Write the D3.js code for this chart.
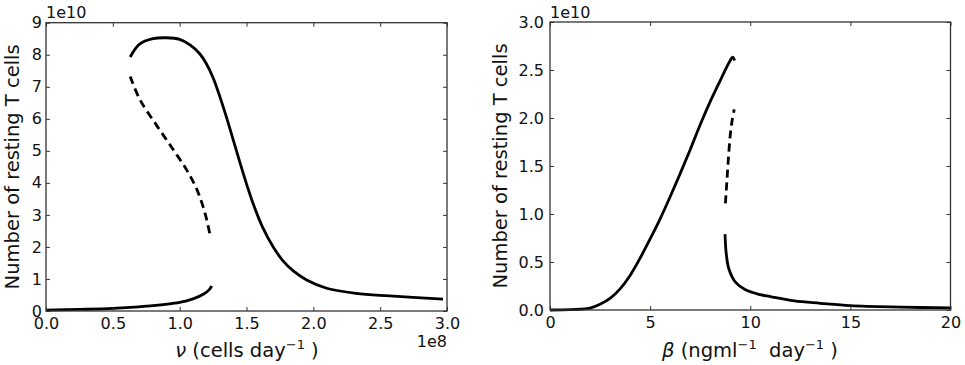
<!DOCTYPE html>
<html>
<head>
<meta charset="utf-8">
<script src="https://cdn.jsdelivr.net/npm/d3@7"></script>
<style>
  body { margin: 0; background: #fff; }
  svg { font-family: "DejaVu Sans", sans-serif; }
  text { white-space: pre; }
</style>
</head>
<body>
<div id="chart"></div>
<script>
// 左図: ν (単位 1e8) と 静止T細胞数 (単位 1e10) ---------------------------------------
const nuLowerX = [0.0, 0.25, 0.5, 0.75, 1.0, 1.1, 1.18, 1.22, 1.24];
const nuLowerY = [0.03, 0.05, 0.08, 0.15, 0.27, 0.38, 0.53, 0.66, 0.78];
const nuDashX = [0.63, 0.70, 0.83, 0.95, 1.05, 1.13, 1.19, 1.23];
const nuDashY = [7.32, 6.62, 5.78, 5.05, 4.42, 3.78, 3.05, 2.32];
const nuUpperX = [0.63, 0.70, 0.80, 0.90, 1.00, 1.08, 1.15, 1.20, 1.25, 1.30, 1.35, 1.40, 1.45, 1.50, 1.55, 1.62, 1.70, 1.77, 1.85, 1.95, 2.10, 2.32, 2.57, 2.97];
const nuUpperY = [7.93, 8.33, 8.50, 8.53, 8.48, 8.30, 8.03, 7.72, 7.28, 6.70, 6.05, 5.35, 4.65, 3.97, 3.35, 2.62, 2.00, 1.58, 1.25, 0.97, 0.71, 0.55, 0.47, 0.37];
const nuTicksX = [0, 0.5, 1.0, 1.5, 2.0, 2.5, 3.0];
const nuTicksY = [0, 1, 2, 3, 4, 5, 6, 7, 8, 9];

// 右図: β と 静止T細胞数 (単位 1e10) ------------------------------------------------------
const betaRiseX = [0, 1.0, 1.5, 2.0, 2.5, 3.0, 3.5, 4.0, 4.5, 5.0, 5.5, 6.0, 6.5, 7.0, 7.5, 8.0, 8.5, 8.8, 9.0, 9.12, 9.22];
const betaRiseY = [0.0, 0.003, 0.008, 0.02, 0.06, 0.12, 0.22, 0.36, 0.54, 0.74, 0.95, 1.18, 1.42, 1.67, 1.93, 2.17, 2.39, 2.52, 2.60, 2.635, 2.60];
const betaDashX = [8.76, 8.83, 8.9, 9.0, 9.1, 9.2];
const betaDashY = [1.11, 1.33, 1.55, 1.82, 1.98, 2.09];
const betaLowerX = [8.74, 8.8, 8.93, 9.26, 9.76, 10.5, 11.0, 12.2, 13.5, 15.0, 17.5, 20.0];
const betaLowerY = [0.79, 0.59, 0.43, 0.29, 0.21, 0.16, 0.14, 0.095, 0.07, 0.045, 0.03, 0.022];
const betaTicksX = [0, 5, 10, 15, 20];
const betaTicksY = [0, 0.5, 1.0, 1.5, 2.0, 2.5, 3.0];

// -----------------------------------------------------------------------------------------
const width = 965, height = 365;
const tickFont = '16px';
const labelFont = '19.5px';
const svg = d3.select('#chart').append('svg')
  .attr('width', width)
  .attr('height', height);

const zip = (xs, ys) => xs.map((x, i) => ({ x: x, y: ys[i] }));

function panel(opt) {
  const xScale = d3.scaleLinear().domain(opt.xDomain).range([opt.left, opt.right]);
  const yScale = d3.scaleLinear().domain(opt.yDomain).range([opt.bottom, opt.top]);
  const g = svg.append('g');
  const tickLen = 4;

  // 線 ---------------------------------------------------------------------------------
  const line = d3.line()
    .x(d => xScale(d.x))
    .y(d => yScale(d.y))
    .curve(d3.curveCatmullRom.alpha(0.5));
  opt.series.forEach(s => {
    g.append('path')
      .datum(zip(s.x, s.y))
      .attr('fill', 'none')
      .attr('stroke', '#000')
      .attr('stroke-width', 2.8)
      .attr('stroke-dasharray', s.dash ? '8,5' : null)
      .attr('d', line);
  });

  // 軸 (内向き目盛り, 上下左右) ----------------------------------------------------------
  g.append('g')
    .attr('transform', 'translate(0,' + opt.bottom + ')')
    .call(d3.axisBottom(xScale).tickValues(opt.xTicks).tickSize(-tickLen).tickPadding(7).tickFormat(opt.xFmt));
  g.append('g')
    .attr('transform', 'translate(0,' + opt.top + ')')
    .call(d3.axisTop(xScale).tickValues(opt.xTicks).tickSize(-tickLen).tickFormat(''));
  g.append('g')
    .attr('transform', 'translate(' + opt.left + ',0)')
    .call(d3.axisLeft(yScale).tickValues(opt.yTicks).tickSize(-tickLen).tickPadding(opt.yPad).tickFormat(opt.yFmt));
  g.append('g')
    .attr('transform', 'translate(' + opt.right + ',0)')
    .call(d3.axisRight(yScale).tickValues(opt.yTicks).tickSize(-tickLen).tickFormat(''));
  g.selectAll('.domain').remove();
  g.selectAll('.tick line').attr('stroke', '#333').attr('stroke-width', 1);
  g.selectAll('.tick text')
    .attr('font-size', tickFont)
    .attr('fill', '#111')
    .attr('font-family', '"DejaVu Sans", sans-serif');

  g.append('rect')
    .attr('x', opt.left)
    .attr('y', opt.top)
    .attr('width', opt.right - opt.left)
    .attr('height', opt.bottom - opt.top)
    .attr('fill', 'none')
    .attr('stroke', '#333')
    .attr('stroke-width', 1.3);

  // オフセット表記 -------------------------------------------------------------------------
  g.append('text')
    .attr('x', opt.left)
    .attr('y', 17.5)
    .attr('font-size', tickFont)
    .attr('fill', '#111')
    .text('1e10');
  if (opt.xOffset) {
    g.append('text')
      .attr('x', opt.right)
      .attr('y', 346.5)
      .attr('text-anchor', 'end')
      .attr('font-size', tickFont)
      .attr('fill', '#111')
      .text(opt.xOffset);
  }

  // 軸ラベル -------------------------------------------------------------------------------
  g.append('text')
    .attr('transform', 'translate(' + opt.yLabelX + ',' + (opt.top + opt.bottom) / 2 + ') rotate(-90)')
    .attr('text-anchor', 'middle')
    .attr('font-size', labelFont)
    .attr('fill', '#111')
    .text('Number of resting T cells');

  const xl = g.append('text')
    .attr('x', opt.xLabelX)
    .attr('y', 357)
    .attr('text-anchor', 'middle')
    .attr('font-size', labelFont)
    .attr('fill', '#111');
  opt.xLabel.forEach(p => {
    const t = xl.append('tspan').text(p.t);
    if (p.italic) t.attr('font-style', 'italic');
    if (p.sup) t.attr('font-size', '13px').attr('baseline-shift', '8px');
  });
}

panel({
  left: 46, right: 447, top: 22.7, bottom: 311,
  xDomain: [0, 3], yDomain: [0, 9],
  xTicks: nuTicksX, yTicks: nuTicksY,
  xFmt: d3.format('.1f'), yFmt: d3.format('d'),
  yPad: 4,
  xOffset: '1e8',
  yLabelX: 19,
  xLabelX: 247,
  xLabel: [
    { t: 'ν', italic: true },
    { t: ' (cells day' },
    { t: '−1', sup: true },
    { t: ' )' }
  ],
  series: [
    { x: nuLowerX, y: nuLowerY },
    { x: nuUpperX, y: nuUpperY },
    { x: nuDashX, y: nuDashY, dash: true }
  ]
});

panel({
  left: 550, right: 950.5, top: 22, bottom: 310,
  xDomain: [0, 20], yDomain: [0, 3],
  xTicks: betaTicksX, yTicks: betaTicksY,
  xFmt: d3.format('d'), yFmt: d3.format('.1f'),
  yPad: 6,
  xOffset: null,
  yLabelX: 507,
  xLabelX: 750,
  xLabel: [
    { t: 'β', italic: true },
    { t: ' (ngml' },
    { t: '−1', sup: true },
    { t: '  day' },
    { t: '−1', sup: true },
    { t: ' )' }
  ],
  series: [
    { x: betaRiseX, y: betaRiseY },
    { x: betaLowerX, y: betaLowerY },
    { x: betaDashX, y: betaDashY, dash: true }
  ]
});
</script>
</body>
</html>
